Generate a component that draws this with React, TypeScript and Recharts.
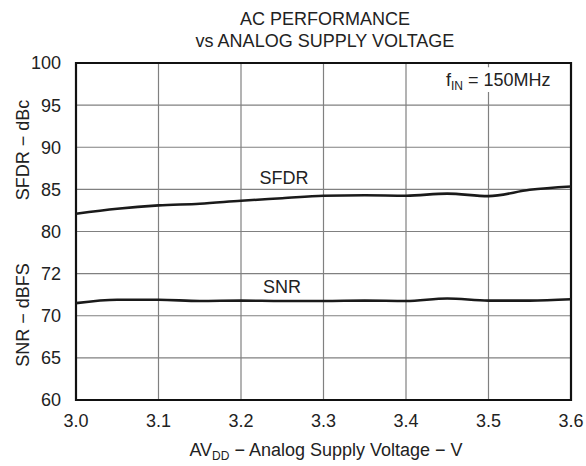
import { ComposedChart, Line, XAxis, YAxis, CartesianGrid, ReferenceArea } from "recharts";

const voltage = [3.0, 3.05, 3.1, 3.15, 3.2, 3.25, 3.3, 3.35, 3.4, 3.45, 3.5, 3.55, 3.6];
const sfdr = [82.1, 82.7, 83.1, 83.3, 83.65, 83.95, 84.25, 84.3, 84.25, 84.5, 84.2, 84.95, 85.35];
const snr = [71.5, 71.9, 71.9, 71.75, 71.8, 71.75, 71.75, 71.8, 71.75, 72.05, 71.8, 71.8, 71.95];
const xTicks = [3.0, 3.1, 3.2, 3.3, 3.4, 3.5, 3.6];
const yTicks = [60, 65, 70, 75, 80, 85, 90, 95, 100];
const yTickText: Record<number, string> = { 75: "72" };

const data = voltage.map((v, i) => ({ v, sfdr: sfdr[i], snr: snr[i] }));

const FONT = "'Liberation Sans', Arial, sans-serif";
const FS = 18;

// label for the white note box, drawn inside the ReferenceArea so it sits on top
const NoteLabel = (props: any) => {
  const { viewBox } = props;
  const x = viewBox.x + 7;
  const y = viewBox.y + viewBox.height / 2 + 6;
  return (
    <text x={x} y={y} fontSize={FS} fill="#222" fontFamily={FONT}>
      f<tspan fontSize={12} dy={4}>IN</tspan><tspan dy={-4}> = 150MHz</tspan>
    </text>
  );
};

const App = () => {
  return (
    <div style={{ position: "absolute", left: 0, top: 0 }}>
      <ComposedChart width={586} height={466} data={data}
        margin={{ top: 63, right: 15, left: 0, bottom: 36 }}
        style={{ fontFamily: FONT }}>
        <CartesianGrid stroke="#808080" strokeWidth={1.2} />
        <XAxis dataKey="v" type="number" domain={[3.0, 3.6]} ticks={xTicks}
          tickFormatter={(t: number) => t.toFixed(1)} tickLine={false} axisLine={false}
          tickSize={0} tickMargin={14} tick={{ fill: "#222", fontSize: FS }} interval={0} />
        <YAxis type="number" domain={[60, 100]} ticks={yTicks} width={76}
          tickFormatter={(t: number) => yTickText[t] ?? String(t)} tickLine={false} axisLine={false}
          tickSize={0} tickMargin={15} tick={{ fill: "#222", fontSize: FS }} interval={0} />
        <ReferenceArea x1={3.44} x2={3.6} y1={96.55} y2={99.5} fill="#fff" fillOpacity={1} stroke="none"
          ifOverflow="visible" label={<NoteLabel />} />
        <ReferenceArea x1={3.0} x2={3.6} y1={60} y2={100} fill="none" stroke="#111" strokeWidth={2.2} ifOverflow="visible" />
        <Line type="monotone" dataKey="sfdr" stroke="#1a1a1a" strokeWidth={2.6} dot={false} isAnimationActive={false} />
        <Line type="monotone" dataKey="snr" stroke="#1a1a1a" strokeWidth={2.6} dot={false} isAnimationActive={false} />
        <text x={325} y={25} textAnchor="middle" fontSize={FS} fill="#222" fontFamily={FONT}>AC PERFORMANCE</text>
        <text x={325} y={47} textAnchor="middle" fontSize={FS} fill="#222" fontFamily={FONT}>vs ANALOG SUPPLY VOLTAGE</text>
        <text x={284} y={184} textAnchor="middle" fontSize={FS} fill="#222" fontFamily={FONT}>SFDR</text>
        <text x={282} y={293} textAnchor="middle" fontSize={FS} fill="#222" fontFamily={FONT}>SNR</text>
        <text x={0} y={0} transform="translate(29,150) rotate(-90)" textAnchor="middle" fontSize={FS} fill="#222" fontFamily={FONT}>SFDR − dBc</text>
        <text x={0} y={0} transform="translate(29,315) rotate(-90)" textAnchor="middle" fontSize={FS} fill="#222" fontFamily={FONT}>SNR − dBFS</text>
        <text x={326} y={456} textAnchor="middle" fontSize={FS} fill="#222" fontFamily={FONT}>
          AV<tspan fontSize={12} dy={4}>DD</tspan><tspan dy={-4}> − Analog Supply Voltage − V</tspan>
        </text>
      </ComposedChart>
    </div>
  );
};

export default App;
